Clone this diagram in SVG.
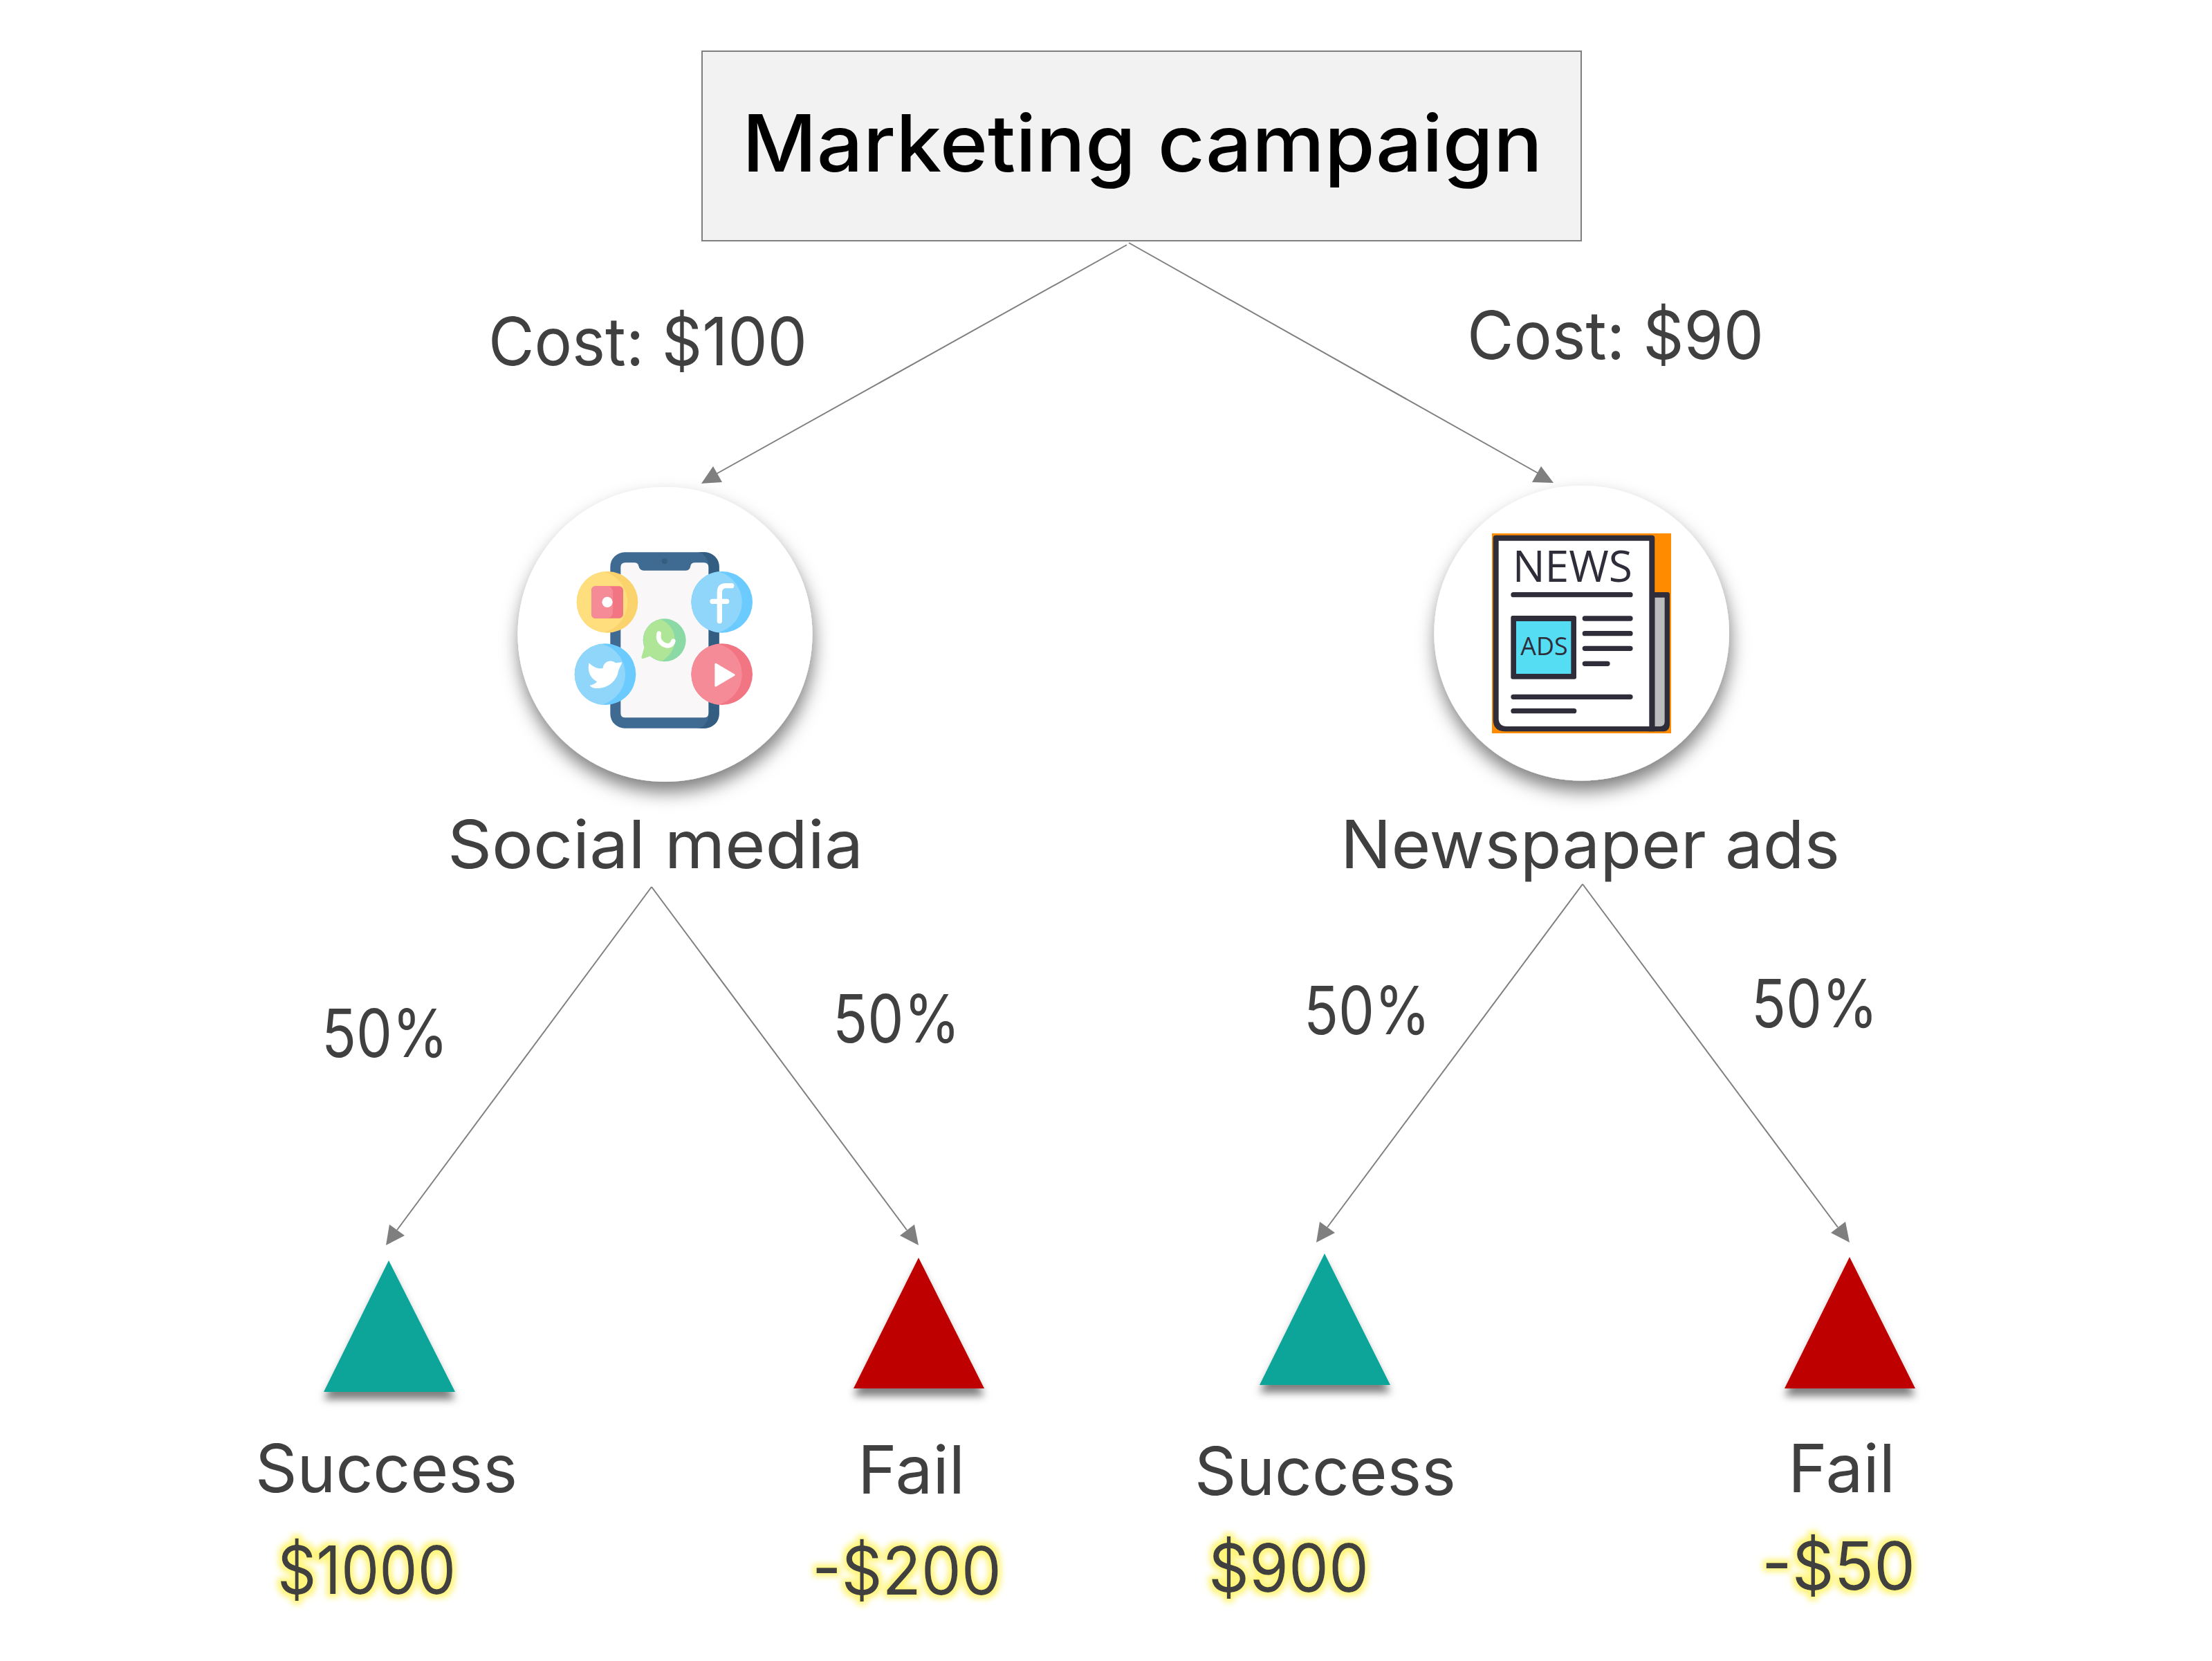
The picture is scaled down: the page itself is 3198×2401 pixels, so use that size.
<svg xmlns="http://www.w3.org/2000/svg" width="3198" height="2401" viewBox="0 0 3198 2401">
<style>
text{font-family:"Inter","Liberation Sans",sans-serif;fill:#404040;font-size:96px;font-weight:400}
.title{fill:#000;font-size:114px;font-weight:500}
.link{stroke:#7f7f7f;stroke-width:2;fill:none}
.head{fill:#7f7f7f;stroke:none}
.ok{fill:#09a59a;filter:url(#triShadow)}
.bad{fill:#bf0000;filter:url(#triShadow)}
.disc{fill:#fff;filter:url(#discShadow)}
.money{filter:url(#glow)}
.bar{stroke:#2f2d3a;stroke-width:22;stroke-linecap:round;fill:none}
text.icontext{font-family:"Open Sans","Liberation Sans",sans-serif;fill:#2f2d3a;font-weight:400}
text.news{font-size:189px}
text.ads{font-size:109px}
</style>
<defs>
<filter id="discShadow" x="-20%" y="-20%" width="140%" height="150%"><feDropShadow dx="2" dy="15" stdDeviation="13" flood-color="#000" flood-opacity="0.5"/></filter>
<filter id="triShadow" x="-20%" y="-20%" width="140%" height="150%"><feDropShadow dx="0" dy="11" stdDeviation="6" flood-color="#000" flood-opacity="0.5"/></filter>
<filter id="glow" x="-15%" y="-25%" width="130%" height="150%">
<feMorphology in="SourceAlpha" operator="dilate" radius="5" result="d"/>
<feGaussianBlur in="d" stdDeviation="4" result="b"/>
<feFlood flood-color="#fff57a"/><feComposite in2="b" operator="in" result="y"/>
<feMerge><feMergeNode in="y"/><feMergeNode in="SourceGraphic"/></feMerge>
</filter>
<path id="lune" d="M-16 -132A133 133 0 0 0 -16 132A136 136 0 0 0 -16 -132Z"/>
</defs>
<rect width="3198" height="2401" fill="#fff"/>
<g id="connectors">
<line class="link" x1="1629" y1="354" x2="1032" y2="687"/>
<polygon class="head" points="1031,674 1044,697 1014,699"/>
<line class="link" x1="1632" y1="351" x2="2229" y2="687"/>
<polygon class="head" points="2228,674 2246,698 2215,697"/>
<line class="link" x1="942" y1="1282" x2="574" y2="1778"/>
<polygon class="head" points="563,1770 585,1786 558,1800"/>
<line class="link" x1="942" y1="1282" x2="1311" y2="1778"/>
<polygon class="head" points="1322,1770 1301,1786 1328,1800"/>
<line class="link" x1="2288" y1="1278" x2="1919" y2="1774"/>
<polygon class="head" points="1908,1766 1930,1782 1903,1796"/>
<line class="link" x1="2288" y1="1278" x2="2657" y2="1774"/>
<polygon class="head" points="2668,1766 2647,1782 2674,1796"/>
</g>
<g id="root">
<rect x="1015" y="74" width="1271" height="274" fill="#f2f2f2" stroke="#7f7f7f" stroke-width="2"/>
<text class="title" x="1073" y="248" textLength="1157" lengthAdjust="spacingAndGlyphs">Marketing campaign</text>
</g>
<g id="cost-social"><text x="706" y="528" textLength="461" lengthAdjust="spacingAndGlyphs">Cost: $100</text></g>
<g id="cost-news"><text x="2121" y="519" textLength="429" lengthAdjust="spacingAndGlyphs">Cost: $90</text></g>
<g id="social">
<circle class="disc" cx="961.5" cy="917" r="213"/>
<g transform="translate(700 650) scale(.33333)">
<rect x="547" y="445" width="472" height="763" rx="62" fill="#3f6b92"/>
<path d="M920 445H957A62 62 0 0 1 1019 507V1146A62 62 0 0 1 957 1208H920A50 60 0 0 0 973 1146V507A50 60 0 0 0 920 445Z" fill="#335e82"/>
<path d="M612 490H650Q668 490 670 505Q674 524 692 524H875Q892 524 895 505Q897 490 915 490H953Q973 490 973 510V1142Q973 1162 953 1162H612Q592 1162 592 1142V510Q592 490 612 490Z" fill="#f9f7f8"/>
<circle cx="782" cy="484" r="12" fill="#335e82"/>
<circle cx="534" cy="661" r="133" fill="#fbd36d"/>
<use href="#lune" transform="translate(534 661)" fill="#ffdf7d"/>
<rect x="465" y="592" width="138" height="139" rx="18" fill="#f27583"/>
<path d="M483 592H530Q558 592 558 620V703Q558 731 530 731H483Q465 731 465 713V610Q465 592 483 592Z" fill="#f68b98"/>
<circle cx="534" cy="661" r="23" fill="#fff"/>
<circle cx="1031" cy="661" r="133" fill="#6bcbff"/>
<use href="#lune" transform="translate(1031 661)" fill="#8fd6fa"/>
<path d="M1021 743V618Q1021 590 1050 590H1073M990 658H1052" fill="none" stroke="#fff" stroke-width="22" stroke-linecap="round"/>
<circle cx="525" cy="974" r="133" fill="#6bcbff"/>
<use href="#lune" transform="translate(525 974)" fill="#8fd6fa"/>
<path d="M455 925C475 945 495 952 515 948C515 925 545 905 570 925L598 922C592 940 585 950 582 960C575 1005 535 1035 490 1035C475 1035 462 1030 458 1022C470 1020 482 1015 490 1006C465 995 445 965 455 925Z" fill="#fff"/>
<circle cx="1031" cy="974" r="133" fill="#f27583"/>
<use href="#lune" transform="translate(1031 974)" fill="#f68b98"/>
<polygon points="1004,930 1084,977 1004,1024" fill="#fff" stroke="#fff" stroke-width="8" stroke-linejoin="round"/>
<circle cx="782" cy="826" r="93" fill="#8bd9a5"/>
<path d="M695 855L682 900Q682 908 690 906L722 895Q745 912 770 918Q827 880 827 826Q827 765 765 735A93 93 0 0 0 695 855Z" fill="#aee597"/>
<path d="M758 797C750 830 775 850 800 850C812 848 818 838 820 830" fill="none" stroke="#fff" stroke-width="20" stroke-linecap="round"/>
</g>
<text x="647" y="1255" textLength="601" lengthAdjust="spacingAndGlyphs">Social media</text>
</g>
<g id="news">
<circle class="disc" cx="2286.7" cy="915.3" r="213.3"/>
<g transform="translate(2030 650) scale(.33333)">
<rect x="381" y="363" width="777" height="867" fill="#ff8c00"/>
<path d="M1075 618H1142Q1152 618 1152 628V1190Q1152 1222 1120 1222H1060V618Z" fill="#2f2d3a"/>
<path d="M1087 641H1130V1180Q1130 1200 1110 1200H1087Z" fill="#bdbdbd"/>
<path d="M398 371H1075Q1087 371 1087 383V1222H440Q386 1222 386 1170V383Q386 371 398 371Z" fill="#2f2d3a"/>
<path d="M410 395H1063V1200H445Q410 1200 410 1165Z" fill="#fff"/>
<text class="icontext news" x="470" y="573" textLength="520" lengthAdjust="spacingAndGlyphs">NEWS</text>
<rect x="463" y="720" width="284" height="275" rx="8" fill="#2f2d3a"/>
<rect x="486" y="744" width="238" height="228" fill="#55ddf3"/>
<text class="icontext ads" x="505" y="892" textLength="205" lengthAdjust="spacingAndGlyphs">ADS</text>
<path class="bar" d="M474 629H981M784 732H981M784 797H981M784 862H981M784 928H882M474 1072H981M474 1133H737"/>
</g>
<text x="1938" y="1255" textLength="722" lengthAdjust="spacingAndGlyphs">Newspaper ads</text>
</g>
<g id="p1"><text x="465" y="1528" textLength="183" lengthAdjust="spacingAndGlyphs">50%</text></g>
<g id="p2"><text x="1204" y="1507" textLength="184" lengthAdjust="spacingAndGlyphs">50%</text></g>
<g id="p3"><text x="1885" y="1495" textLength="183" lengthAdjust="spacingAndGlyphs">50%</text></g>
<g id="p4"><text x="2532" y="1485" textLength="183" lengthAdjust="spacingAndGlyphs">50%</text></g>
<g id="outcome-social-success">
<polygon class="ok" points="562,1822 658,2012 468,2012"/>
<text x="369" y="2157" textLength="379" lengthAdjust="spacingAndGlyphs">Success</text>
<text class="money" x="401" y="2304" textLength="258" lengthAdjust="spacingAndGlyphs">$1000</text>
</g>
<g id="outcome-social-fail">
<polygon class="bad" points="1328,1818 1423,2007 1234,2007"/>
<text x="1240" y="2159" textLength="155" lengthAdjust="spacingAndGlyphs">Fail</text>
<text class="money" x="1174" y="2305" textLength="274" lengthAdjust="spacingAndGlyphs">-$200</text>
</g>
<g id="outcome-news-success">
<polygon class="ok" points="1915,1812 2010,2002 1821,2002"/>
<text x="1727" y="2161" textLength="378" lengthAdjust="spacingAndGlyphs">Success</text>
<text class="money" x="1747" y="2301" textLength="232" lengthAdjust="spacingAndGlyphs">$900</text>
</g>
<g id="outcome-news-fail">
<polygon class="bad" points="2674,1817 2769,2007 2580,2007"/>
<text x="2585" y="2157" textLength="155" lengthAdjust="spacingAndGlyphs">Fail</text>
<text class="money" x="2547" y="2298" textLength="222" lengthAdjust="spacingAndGlyphs">-$50</text>
</g>
</svg>
